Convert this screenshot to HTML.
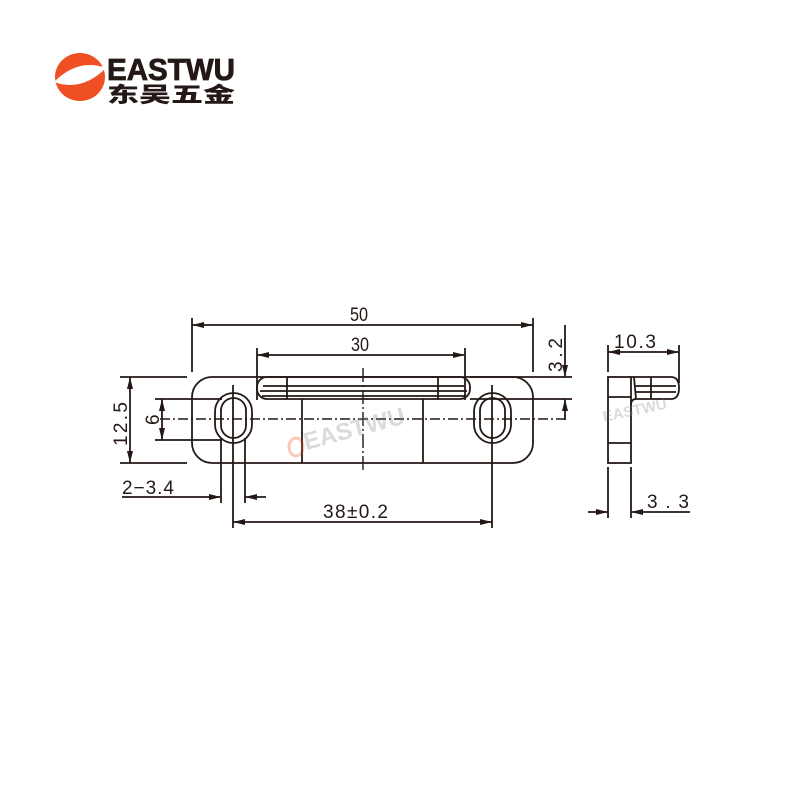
<!DOCTYPE html>
<html><head><meta charset="utf-8"><style>
html,body{margin:0;padding:0;background:#fff;}
svg{display:block;}
text{font-family:"Liberation Sans Narrow","Liberation Sans",sans-serif;fill:#231815;}
</style></head><body>
<svg width="800" height="800" viewBox="0 0 800 800" xmlns="http://www.w3.org/2000/svg">
<defs>
<marker id="a" viewBox="0 0 12 6" refX="12" refY="3" markerWidth="13" markerHeight="6" markerUnits="userSpaceOnUse" orient="auto-start-reverse"><path d="M0,0 L12,3 L0,6 z" fill="#231815"/></marker>
</defs>
<!-- logo -->
<ellipse cx="80" cy="77" rx="25" ry="24" fill="#f04e23"/>
<path d="M54,82 Q78,58 106,68 Q82,92 54,82 Z" fill="#fff"/>
<path d="M60,78 Q80,66 100,71 Q80,84 60,78 Z" fill="#fff"/>
<text x="107" y="80" font-size="31" textLength="128" lengthAdjust="spacingAndGlyphs" style="font-family:'Liberation Sans',sans-serif;font-weight:900;stroke:#231815;stroke-width:0.8">EASTWU</text>
<text x="107" y="102" font-size="21" textLength="128" lengthAdjust="spacingAndGlyphs" style="font-family:'Liberation Sans','Noto Sans CJK SC',sans-serif;font-weight:900">东吴五金</text>

<g stroke="#231815" stroke-width="1.8" fill="none">
<!-- plate -->
<rect x="192" y="377" width="341" height="86" rx="20"/>
<!-- top bar -->
<rect x="257" y="377" width="213" height="22" rx="10"/>
<line x1="263" y1="386" x2="464" y2="386"/>
<line x1="260" y1="391" x2="467" y2="391"/>
<line x1="262" y1="396" x2="465" y2="396"/>
<line x1="287" y1="377" x2="287" y2="399"/>
<line x1="438" y1="377" x2="438" y2="399"/>
<!-- body -->
<line x1="302" y1="399" x2="302" y2="463"/>
<line x1="423" y1="399" x2="423" y2="463"/>
<!-- slots -->
<rect x="215" y="393" width="37" height="50" rx="18.5"/>
<rect x="221" y="398" width="25" height="40" rx="12.5"/>
<rect x="474" y="393" width="37" height="50" rx="18.5"/>
<rect x="480" y="398" width="25" height="40" rx="12.5"/>
<line x1="233" y1="385" x2="233" y2="445"/>
<line x1="492" y1="385" x2="492" y2="445"/>
<!-- center lines -->
<line x1="160" y1="419" x2="565" y2="419" stroke-dasharray="10,3,2,3" stroke-width="1.4"/>
<line x1="363" y1="368" x2="363" y2="473" stroke-dasharray="14,3,2,3" stroke-width="1.4"/>
<!-- dim 50 -->
<line x1="192" y1="318" x2="192" y2="372"/>
<line x1="533" y1="318" x2="533" y2="372"/>
<line x1="192" y1="325" x2="533" y2="325" marker-start="url(#a)" marker-end="url(#a)"/>
<!-- dim 30 -->
<line x1="257" y1="348" x2="257" y2="400"/>
<line x1="465" y1="348" x2="465" y2="400"/>
<line x1="257" y1="355" x2="465" y2="355" marker-start="url(#a)" marker-end="url(#a)"/>
<!-- dim 3.2 -->
<line x1="470" y1="377" x2="572" y2="377"/>
<line x1="470" y1="399" x2="572" y2="399"/>
<line x1="565" y1="325" x2="565" y2="377" marker-end="url(#a)"/>
<line x1="565" y1="420" x2="565" y2="399" marker-end="url(#a)"/>
<!-- dim 12.5 -->
<line x1="120" y1="377" x2="187" y2="377"/>
<line x1="120" y1="463" x2="187" y2="463"/>
<line x1="130" y1="377" x2="130" y2="463" marker-start="url(#a)" marker-end="url(#a)"/>
<!-- dim 6 -->
<line x1="155" y1="399" x2="222" y2="399"/>
<line x1="155" y1="440" x2="222" y2="440"/>
<line x1="162" y1="399" x2="162" y2="440" marker-start="url(#a)" marker-end="url(#a)"/>
<!-- dim 2-3.4 -->
<line x1="221" y1="438" x2="221" y2="503"/>
<line x1="245" y1="438" x2="245" y2="503"/>
<line x1="122" y1="497" x2="221" y2="497" marker-end="url(#a)"/>
<line x1="266" y1="497" x2="245" y2="497" marker-end="url(#a)"/>
<!-- dim 38 -->
<line x1="233" y1="445" x2="233" y2="528"/>
<line x1="492" y1="445" x2="492" y2="528"/>
<line x1="233" y1="522" x2="492" y2="522" marker-start="url(#a)" marker-end="url(#a)"/>
<!-- side view -->
<rect x="608" y="377" width="23" height="86"/>
<line x1="608" y1="397" x2="631" y2="397"/>
<line x1="608" y1="443" x2="631" y2="443"/>
<path d="M631,377 L671,377 Q679,377 679,388 Q679,399 671,399 L636,399 Q631,399 631,405"/>
<line x1="634" y1="377" x2="636" y2="399"/>
<line x1="651" y1="377" x2="651" y2="399"/>
<line x1="634" y1="386" x2="676" y2="386"/>
<line x1="635" y1="392" x2="676" y2="392"/>
<line x1="608" y1="345" x2="608" y2="372"/>
<line x1="679" y1="345" x2="679" y2="383"/>
<line x1="608" y1="352" x2="679" y2="352" marker-start="url(#a)" marker-end="url(#a)"/>
<line x1="608" y1="467" x2="608" y2="518"/>
<line x1="631" y1="467" x2="631" y2="518"/>
<line x1="588" y1="512" x2="608" y2="512" marker-end="url(#a)"/>
<line x1="690" y1="512" x2="631" y2="512" marker-end="url(#a)"/>
</g>
<g font-size="19">
<text x="350" y="321" textLength="18" lengthAdjust="spacingAndGlyphs">50</text>
<text x="351" y="351" textLength="18" lengthAdjust="spacingAndGlyphs">30</text>
<text x="323" y="518" textLength="65" lengthAdjust="spacing">38±0.2</text>
<text x="122" y="494" textLength="52" lengthAdjust="spacing">2−3.4</text>
<text x="614" y="348" textLength="42" lengthAdjust="spacing">10.3</text>
<text x="647" y="508" textLength="42" lengthAdjust="spacing">3.3</text>
<text transform="translate(127,446) rotate(-90)" textLength="44" lengthAdjust="spacing">12.5</text>
<text transform="translate(159,425) rotate(-90)">6</text>
<text transform="translate(562,372) rotate(-90)" textLength="34" lengthAdjust="spacing">3.2</text>
</g>
<!-- watermarks -->
<g opacity="0.3">
<text transform="translate(306,450) rotate(-15)" font-size="24" style="font-family:'Liberation Sans',sans-serif;font-weight:900;fill:#888">EASTWU</text>
<ellipse cx="296" cy="447" rx="7" ry="9" fill="none" stroke="#f04e23" stroke-width="3"/>
<text transform="translate(604,422) rotate(-12)" font-size="15" style="font-family:'Liberation Sans',sans-serif;font-weight:900;fill:#888">EASTWU</text>
</g>
</svg>
</body></html>
